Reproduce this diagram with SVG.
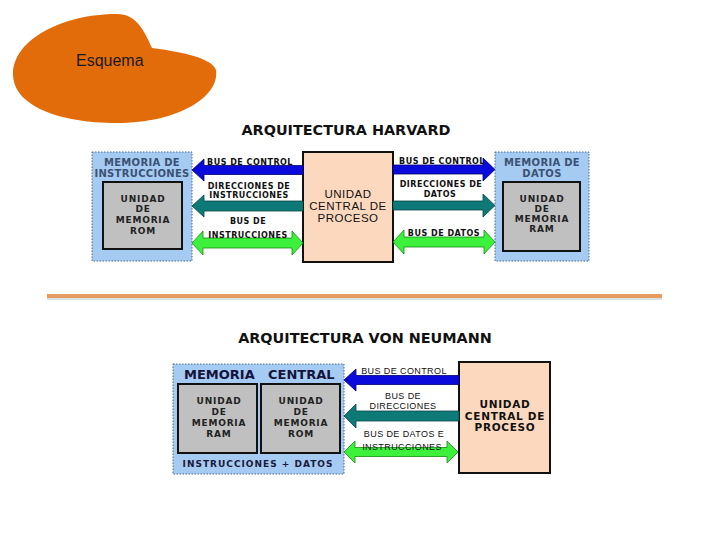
<svg xmlns="http://www.w3.org/2000/svg" width="728" height="546" viewBox="0 0 728 546">
<style>
.title{font-family:"DejaVu Sans",Verdana,sans-serif;font-weight:bold;font-size:14.4px;fill:#111;text-anchor:middle}
.lbl{font-family:"DejaVu Sans",Verdana,sans-serif;font-weight:bold;font-size:8px;letter-spacing:0.5px;fill:#111;text-anchor:middle}
.lbl2{font-family:"Liberation Sans",Arial,sans-serif;font-size:9px;letter-spacing:0.4px;fill:#111;text-anchor:middle}
.memhdr{font-family:"DejaVu Sans",Verdana,sans-serif;font-weight:bold;font-size:10px;letter-spacing:0.3px;fill:#3A5272;text-anchor:middle}
.unit{font-family:"DejaVu Sans",Verdana,sans-serif;font-weight:bold;font-size:9px;letter-spacing:0.8px;fill:#222;text-anchor:middle}
.cpuH{font-family:"Liberation Sans",Arial,sans-serif;font-size:11.5px;letter-spacing:0.5px;fill:#111;text-anchor:middle}
.cpuV{font-family:"DejaVu Sans",Verdana,sans-serif;font-weight:bold;font-size:10.5px;letter-spacing:0.7px;fill:#111;text-anchor:middle}
.mem{fill:#A6CBF2;stroke:#4A6A8A;stroke-width:1;stroke-dasharray:1.5 1.5}
.gray{fill:#C0C0C0;stroke:#111;stroke-width:2}
.cpu{fill:#FCD9BE;stroke:#111;stroke-width:2}
.blue{fill:#0A0ADC;stroke:#00006E;stroke-width:0.8}
.teal{fill:#0E7A78;stroke:#064846;stroke-width:0.8}
.green{fill:#3CF03C;stroke:#148C14;stroke-width:0.8}
</style>

<g id="esquema">
<path d="M117,14 C136,14 144,30 152,48 C182,52 212,58 216,70 C220,96 180,123 116,123 C60,123 13,106 13,74 C13,40 62,14 117,14 Z" fill="#E36C0A"/>
<text x="76" y="66" font-family="Liberation Sans,Arial,sans-serif" font-size="16" fill="#1a1a1a">Esquema</text>
</g>

<text class="title" x="346" y="135">ARQUITECTURA HARVARD</text>

<g id="harvard-mem-instr">
<rect class="mem" x="92" y="152" width="100" height="109"/>
<text class="memhdr" x="142" y="166">MEMORIA DE</text>
<text class="memhdr" x="142" y="177">INSTRUCCIONES</text>
<rect class="gray" x="103" y="182" width="79" height="67"/>
<text class="unit" x="143" y="202">UNIDAD</text>
<text class="unit" x="143" y="212">DE</text>
<text class="unit" x="143" y="223">MEMORIA</text>
<text class="unit" x="143" y="234">ROM</text>
</g>

<g id="harvard-cpu">
<rect class="cpu" x="303" y="152" width="90" height="110"/>
<text class="cpuH" x="348" y="198">UNIDAD</text>
<text class="cpuH" x="348" y="210">CENTRAL DE</text>
<text class="cpuH" x="348" y="222">PROCESO</text>
</g>

<g id="harvard-mem-datos">
<rect class="mem" x="495" y="152" width="94" height="109"/>
<text class="memhdr" x="542" y="166">MEMORIA DE</text>
<text class="memhdr" x="542" y="177">DATOS</text>
<rect class="gray" x="503" y="182" width="77" height="69"/>
<text class="unit" x="542" y="202">UNIDAD</text>
<text class="unit" x="542" y="212">DE</text>
<text class="unit" x="542" y="222">MEMORIA</text>
<text class="unit" x="542" y="232">RAM</text>
</g>

<g id="harvard-connectors">
<polygon class="blue" points="192,170 204,159 204,165.5 303,165.5 303,174.5 204,174.5 204,181"/>
<polygon class="teal" points="192,206 204,195 204,201 303,201 303,211 204,211 204,217"/>
<polygon class="green" points="192,243 203,231 203,238 292,238 292,231 303,243 292,255 292,248 203,248 203,255"/>
<polygon class="blue" points="393,165 483,165 483,158 495,169.5 483,181 483,174 393,174"/>
<polygon class="teal" points="393,201 483,201 483,194 495,205.5 483,217 483,210 393,210"/>
<polygon class="green" points="393,242 404,230 404,237 484,237 484,230 495,242 484,254 484,247 404,247 404,254"/>
<text class="lbl" x="250" y="165">BUS DE CONTROL</text>
<text class="lbl" x="249" y="189">DIRECCIONES DE</text>
<text class="lbl" x="249" y="198">INSTRUCCIONES</text>
<text class="lbl" x="248" y="224">BUS DE</text>
<text class="lbl" x="248" y="238">INSTRUCCIONES</text>
<text class="lbl" x="442" y="164">BUS DE CONTROL</text>
<text class="lbl" x="441" y="187">DIRECCIONES DE</text>
<text class="lbl" x="440" y="197">DATOS</text>
<text class="lbl" x="444" y="236">BUS DE DATOS</text>
</g>

<g id="separator">
<line x1="47" y1="298" x2="662" y2="298" stroke="#000" stroke-opacity="0.12" stroke-width="4"/>
<line x1="47" y1="296" x2="662" y2="296" stroke="#E59C64" stroke-width="4"/>
</g>

<text class="title" x="365" y="343">ARQUITECTURA VON NEUMANN</text>

<g id="vn-memoria-central">
<rect class="mem" x="173" y="364" width="171" height="110"/>
<text x="184" y="379" font-family="DejaVu Sans,Verdana,sans-serif" font-weight="bold" font-size="13" fill="#14143C">MEMORIA</text>
<text x="268" y="379" font-family="DejaVu Sans,Verdana,sans-serif" font-weight="bold" font-size="13" fill="#14143C">CENTRAL</text>
<rect class="gray" x="178" y="384" width="79" height="69"/>
<text class="unit" x="219" y="404">UNIDAD</text>
<text class="unit" x="219" y="415">DE</text>
<text class="unit" x="219" y="426">MEMORIA</text>
<text class="unit" x="219" y="437">RAM</text>
<rect class="gray" x="261" y="384" width="79" height="69"/>
<text class="unit" x="301" y="404">UNIDAD</text>
<text class="unit" x="301" y="415">DE</text>
<text class="unit" x="301" y="426">MEMORIA</text>
<text class="unit" x="301" y="437">ROM</text>
<text class="unit" x="258" y="467" style="letter-spacing:1px;fill:#1a1a3a">INSTRUCCIONES + DATOS</text>
</g>

<g id="vn-cpu">
<rect class="cpu" x="459" y="362" width="91" height="111"/>
<text class="cpuV" x="505" y="408">UNIDAD</text>
<text class="cpuV" x="505" y="420">CENTRAL DE</text>
<text class="cpuV" x="505" y="431">PROCESO</text>
</g>

<g id="vn-connectors">
<polygon class="blue" points="344,380 356,369 356,375.5 459,375.5 459,384.5 356,384.5 356,391"/>
<polygon class="teal" points="344,416 356,404 356,411 459,411 459,421 356,421 356,428"/>
<polygon class="green" points="344,452 355,441 355,447.5 447,447.5 447,441 458,452 447,463 447,456.5 355,456.5 355,463"/>
<text class="lbl2" x="404" y="374">BUS DE CONTROL</text>
<text class="lbl2" x="403" y="399">BUS DE</text>
<text class="lbl2" x="403" y="409">DIRECCIONES</text>
<text class="lbl2" x="404" y="437">BUS DE DATOS E</text>
<text class="lbl2" x="402" y="450">INSTRUCCIONES</text>
</g>
</svg>
